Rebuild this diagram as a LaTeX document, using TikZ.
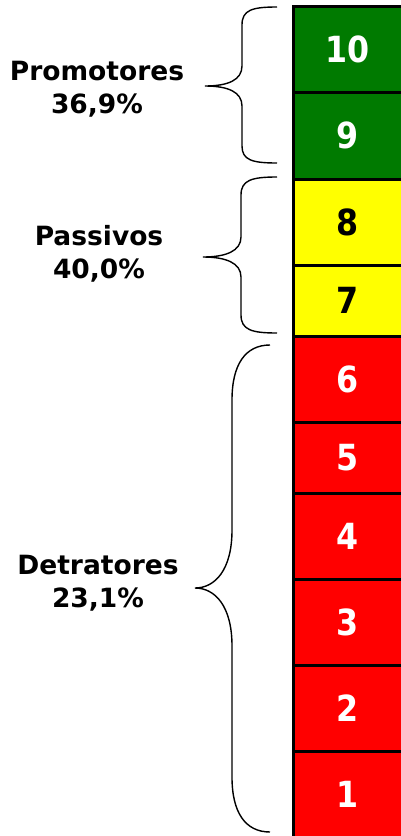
\documentclass[tikz,border=0pt]{standalone}
\usepackage{fontspec}
\usepackage{graphicx}
\setmainfont{DejaVu Sans}
\definecolor{npsgreen}{RGB}{0,122,0}
\definecolor{npsyellow}{RGB}{255,255,0}
\definecolor{npsred}{RGB}{255,0,0}
\newcommand{\scoretxt}[1]{\scalebox{0.88}[1]{#1}\hspace*{7pt}}
\begin{document}
\begin{tikzpicture}[x=1pt,y=-1pt,
  scorebox/.style={draw=black,line width=2.6pt,minimum width=116pt,inner sep=0pt,anchor=north west,
    font=\fontsize{36}{36}\selectfont\bfseries},
  grouplabel/.style={align=center,font=\fontsize{26.5}{33}\selectfont\bfseries},
  bracepath/.style={draw=black,line width=1.4pt}]
\useasboundingbox (0,0) rectangle (400,836);
% boxes
\node[scorebox,fill=npsgreen,text=white,minimum height=86pt] (b10) at (292,5) {\scoretxt{10}};
\node[scorebox,fill=npsgreen,text=white,minimum height=87pt] (b9) at (292,91) {\scoretxt{9}};
\node[scorebox,fill=npsyellow,text=black,minimum height=86pt] (b8) at (292,178) {\scoretxt{8}};
\node[scorebox,fill=npsyellow,text=black,minimum height=71pt] (b7) at (292,264) {\scoretxt{7}};
\node[scorebox,fill=npsred,text=white,minimum height=86pt] (b6) at (292,335) {\scoretxt{6}};
\node[scorebox,fill=npsred,text=white,minimum height=71pt] (b5) at (292,421) {\scoretxt{5}};
\node[scorebox,fill=npsred,text=white,minimum height=86pt] (b4) at (292,492) {\scoretxt{4}};
\node[scorebox,fill=npsred,text=white,minimum height=86pt] (b3) at (292,578) {\scoretxt{3}};
\node[scorebox,fill=npsred,text=white,minimum height=86pt] (b2) at (292,664) {\scoretxt{2}};
\node[scorebox,fill=npsred,text=white,minimum height=86pt] (b1) at (292,750) {\scoretxt{1}};
% labels
\node[grouplabel] (prom) at (97,89) {Promotores\\36,9\%};
\node[grouplabel] (pass) at (99,254) {Passivos\\40,0\%};
\node[grouplabel] (detr) at (98,583) {Detratores\\23,1\%};
% braces
\coordinate (t1) at (205,86);
\coordinate (t2) at (203,257);
\coordinate (t3) at (195,588);
\draw[bracepath] (277,7) .. controls (252,7) and (242,10) .. (242,25) -- (242,66)
  .. controls (242,80) and (228,86) .. (t1)
  .. controls (228,86) and (242,92) .. (242,106) -- (242,146)
  .. controls (242,160) and (252,163) .. (277,163);
\draw[bracepath] (277,177) .. controls (252,177) and (241,180) .. (241,195) -- (241,237)
  .. controls (241,251) and (226,257) .. (t2)
  .. controls (226,257) and (241,263) .. (241,277) -- (241,315)
  .. controls (241,330) and (252,333) .. (277,333);
\draw[bracepath] (270,345) .. controls (245,345) and (232,365) .. (232,400) -- (232,530)
  .. controls (232,570) and (215,588) .. (t3)
  .. controls (215,588) and (232,606) .. (232,646) -- (232,777)
  .. controls (232,812) and (245,832) .. (270,832);
\end{tikzpicture}
\end{document}
